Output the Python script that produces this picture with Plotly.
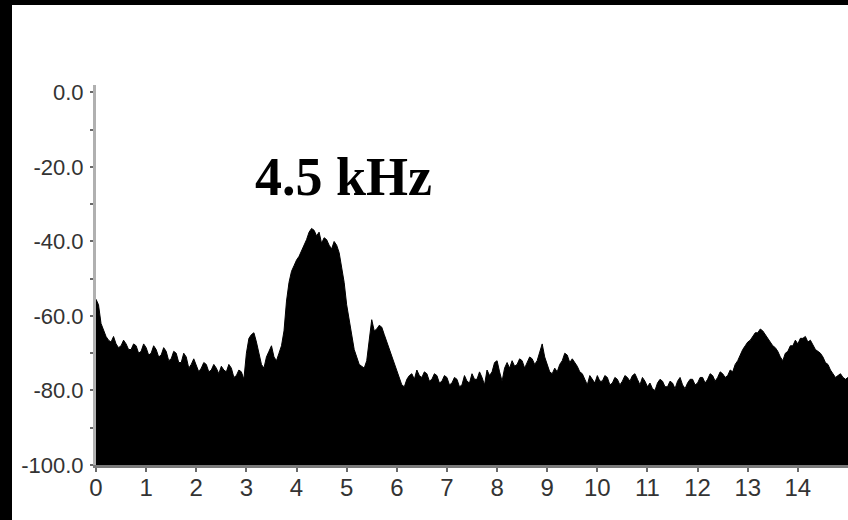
import plotly.graph_objects as go

# Spectrum magnitude (dB) sampled every 0.05 kHz from 0 to 15 kHz
freq_khz = [round(i * 0.05, 2) for i in range(301)]
level_db = [
    -55.5, -57.0, -62.0, -64.0, -65.5, -66.5, -67.0, -65.5, -67.5, -68.5,
    -68.0, -66.5, -67.5, -69.0, -69.0, -67.5, -68.0, -70.0, -69.5, -67.5,
    -68.5, -70.5, -70.0, -68.0, -69.0, -71.0, -70.5, -68.5, -69.5, -72.0,
    -71.5, -69.5, -70.0, -72.5, -72.5, -70.0, -71.0, -74.0, -73.0, -71.5,
    -73.5, -75.0, -74.0, -72.5, -73.0, -75.0, -74.5, -73.0, -74.0, -75.5,
    -73.5, -74.5, -75.0, -73.0, -74.0, -76.5, -76.0, -74.5, -75.0, -77.0,
    -70.0, -66.0, -65.0, -64.5, -67.0, -70.0, -73.0, -74.0, -71.0, -69.5,
    -68.0, -71.0, -72.0, -70.0, -68.0, -64.0, -56.0, -51.0, -48.0, -46.5,
    -45.0, -44.0, -42.5, -41.0, -39.5, -37.5, -36.5, -37.0, -38.5, -37.5,
    -40.5, -39.0, -39.5, -41.0, -42.0, -40.0, -41.0, -43.0, -47.0, -51.0,
    -57.0, -61.0, -66.0, -69.0, -71.0, -73.0, -73.5, -74.0, -72.0, -66.0,
    -61.0, -64.0, -63.5, -62.5, -63.0, -65.0, -67.0, -69.0, -70.5, -72.5,
    -74.5, -76.5, -78.5, -79.0, -77.0, -76.0, -75.5, -77.0, -74.5, -76.0,
    -76.5, -75.0, -75.5, -77.5, -77.0, -75.5, -76.0, -78.0, -77.5, -76.0,
    -76.5, -78.5, -78.0, -76.5, -77.0, -79.0, -78.5, -76.0, -77.5, -78.0,
    -75.5, -77.0, -77.0, -75.0, -76.5, -78.5, -74.5, -76.0, -75.0, -72.5,
    -72.0, -75.0, -77.5, -74.0, -72.5, -74.0, -72.0, -73.5, -73.0, -71.5,
    -72.0, -74.0, -72.5, -71.0, -71.5, -73.0, -72.0, -70.0, -67.5, -71.0,
    -73.0, -75.0, -75.5, -74.0, -75.0, -73.0, -72.0, -70.0, -70.5, -72.5,
    -71.5, -72.5, -73.5, -75.0, -75.5, -77.0, -78.5, -76.0, -77.0, -78.0,
    -76.0, -77.5, -77.5, -76.0, -76.5, -78.5, -78.0, -76.5, -77.0, -78.5,
    -77.5, -76.0, -76.5, -77.5, -76.0, -75.5, -77.0, -78.5, -76.5, -77.5,
    -79.0, -78.0, -79.5, -80.0, -78.0, -77.0, -77.5, -79.0, -79.0, -77.5,
    -78.0, -79.5, -77.5, -76.5, -78.5, -79.5, -78.0, -77.0, -77.0, -78.5,
    -78.0, -76.5, -76.5, -78.0, -77.0, -75.5, -76.0, -77.5, -76.5, -75.0,
    -75.5, -76.5, -76.0, -74.5, -75.0, -73.0, -72.0, -70.5, -69.0, -68.0,
    -67.0, -66.5, -65.5, -64.5, -64.5, -63.5, -64.0, -65.0, -66.0, -67.0,
    -68.0, -68.5, -69.5, -71.0, -72.0, -70.0, -69.5, -68.0, -68.0, -66.5,
    -67.5, -66.0, -66.0, -65.5, -67.0, -66.5, -68.0, -69.0, -69.5, -70.0,
    -71.0, -72.5, -73.0, -74.5, -75.5, -76.5, -76.0, -75.5, -76.5, -77.0,
    -76.5,
]

y_tick_vals = [0, -20, -40, -60, -80, -100]
y_tick_text = ["0.0", "-20.0", "-40.0", "-60.0", "-80.0", "-100.0"]
y_minor_vals = [-10, -30, -50, -70, -90]
x_tick_vals = list(range(15))
peak_label = "4.5 kHz"
peak_label_pos = (4.93, -22.8)
floor_db = -100

fig = go.Figure()

# floor line used as the lower edge of the filled spectrum
fig.add_trace(go.Scatter(
    x=freq_khz, y=[floor_db] * len(freq_khz),
    mode="lines", line=dict(width=0, color="black"),
    hoverinfo="skip", showlegend=False,
))
fig.add_trace(go.Scatter(
    x=freq_khz, y=level_db,
    mode="lines", line=dict(width=1, color="black"),
    fill="tonexty", fillcolor="black", showlegend=False,
))

fig.add_annotation(
    x=peak_label_pos[0], y=peak_label_pos[1], xref="x", yref="y",
    text=f"<b>{peak_label}</b>", showarrow=False,
    font=dict(family="Liberation Serif, Times New Roman, serif", size=54, color="black"),
    xanchor="center", yanchor="middle",
)

fig.update_xaxes(
    range=[0, 15], tickvals=x_tick_vals, ticktext=[str(v) for v in x_tick_vals],
    showgrid=False, zeroline=False,
    showline=True, linecolor="#7a7a7a", linewidth=3,
    ticks="outside", ticklen=4, tickwidth=2, tickcolor="#6a6a6a",
    tickfont=dict(family="Liberation Sans, Arial, sans-serif", size=24, color="#333333"),
    ticklabelstandoff=-5,
)
fig.update_yaxes(
    range=[-100, 2], tickvals=y_tick_vals, ticktext=y_tick_text,
    showgrid=False, zeroline=False,
    showline=True, linecolor="#b0b0b0", linewidth=3,
    ticks="outside", ticklen=3, tickwidth=2, tickcolor="#6a6a6a",
    minor=dict(tickvals=y_minor_vals, ticks="outside",
               ticklen=3, tickwidth=2, tickcolor="#6a6a6a"),
    tickfont=dict(family="Liberation Sans, Arial, sans-serif", size=22, color="#333333"),
    ticklabelstandoff=2,
)

# black frame strips along the left and top edges of the page
plot_w = 848 - 96
plot_h = 465 - 85
fig.add_shape(type="rect", xref="paper", yref="paper",
              x0=-96 / plot_w, x1=-84 / plot_w, y0=-55 / plot_h, y1=(85 + 1) / plot_h + 1,
              fillcolor="black", line=dict(width=0), layer="above")
fig.add_shape(type="rect", xref="paper", yref="paper",
              x0=-96 / plot_w, x1=1.01, y0=1 + 80 / plot_h, y1=1 + 86 / plot_h,
              fillcolor="black", line=dict(width=0), layer="above")

fig.update_layout(
    width=848, height=520,
    margin=dict(l=96, r=0, t=85, b=55),
    paper_bgcolor="white", plot_bgcolor="white",
)

fig.write_html("out.html")
